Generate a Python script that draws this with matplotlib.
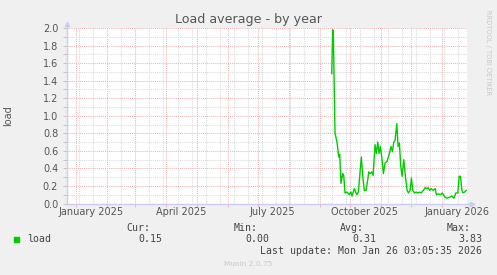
import matplotlib
matplotlib.use("Agg")
import matplotlib.pyplot as plt
import matplotlib.dates as mdates
from matplotlib.ticker import MultipleLocator, FixedLocator
import pandas as pd

# --- データ（2025-01-01 からの日数, load） ---
day = [255.0, 256.0, 256.6, 258.3, 260.3, 262.0, 263.0, 264.3, 266.0, 267.0,
       268.3, 270.3, 272.6, 274.3, 275.3, 277.6, 280.0, 281.6, 284.6, 286.0,
       287.6, 289.3, 291.0, 292.0, 293.3, 295.0, 296.3, 298.3, 299.6, 301.0,
       302.3, 303.6, 305.3, 306.6, 308.3, 310.3, 312.6, 314.3, 315.6, 317.0,
       318.3, 320.0, 321.3, 322.6, 324.0, 325.3, 327.0, 328.6, 330.3, 331.6,
       333.3, 334.6, 336.0, 337.6, 339.3, 341.0, 342.6, 344.3, 346.6, 348.3,
       350.0, 351.3, 353.0, 354.3, 356.3, 358.3, 359.6, 361.6, 363.6, 365.6,
       367.6, 370.0, 372.6, 375.0, 377.0, 379.0, 381.0, 382.3, 383.6, 385.0,
       386.3, 387.6, 389.6]
load = [1.48, 1.98, 1.96, 0.80, 0.70, 0.53, 0.56, 0.23, 0.34, 0.32,
        0.12, 0.13, 0.10, 0.13, 0.085, 0.17, 0.10, 0.13, 0.53, 0.31,
        0.15, 0.15, 0.27, 0.36, 0.34, 0.36, 0.32, 0.67, 0.57, 0.70,
        0.57, 0.65, 0.50, 0.34, 0.46, 0.48, 0.57, 0.65, 0.59, 0.70,
        0.72, 0.91, 0.65, 0.69, 0.42, 0.31, 0.50, 0.31, 0.15, 0.12,
        0.15, 0.29, 0.15, 0.12, 0.13, 0.12, 0.13, 0.12, 0.15, 0.18,
        0.17, 0.18, 0.15, 0.17, 0.15, 0.17, 0.10, 0.11, 0.10, 0.12,
        0.08, 0.06, 0.07, 0.085, 0.06, 0.12, 0.12, 0.31, 0.31, 0.15,
        0.12, 0.13, 0.15]

x_labels = ["January 2025", "April 2025", "July 2025", "October 2025", "January 2026"]
x_label_dates = ["2025-01-16", "2025-04-16", "2025-07-16", "2025-10-16", "2026-01-16"]
y_ticks = [0.0, 0.2, 0.4, 0.6, 0.8, 1.0, 1.2, 1.4, 1.6, 1.8, 2.0]

cur, vmin, avg, vmax = "0.15", "0.00", "0.31", "3.83"
last_update = "Mon Jan 26 03:05:35 2026"

# --- 色 ---
BACK = "#f0f0f0"
GREEN = "#00cc00"
MGRID = "#f0b4b4"
GRID = "#dadada"
AXIS = "#ccccf4"
FONT = "#555555"

W, H = 497, 275
fig = plt.figure(figsize=(W / 100, H / 100), dpi=100, facecolor=BACK)
ax = fig.add_axes([66.5 / W, (H - 203.5) / H, 400.5 / W, 175.5 / H])
ax.set_facecolor("white")

end = pd.Timestamp("2026-01-26 03:05:35")
start = end - pd.Timedelta(days=400)
dates = pd.Timestamp("2025-01-01") + pd.to_timedelta(day, unit="D")

ax.plot(dates, load, color=GREEN, lw=1.0, zorder=3)
ax.set_xlim(start, end)
ax.set_ylim(0, 2.0)

# グリッド
ax.yaxis.set_major_locator(FixedLocator(y_ticks))
ax.yaxis.set_minor_locator(MultipleLocator(0.1))
ax.yaxis.set_major_formatter(matplotlib.ticker.FormatStrFormatter("%.1f"))
ax.xaxis.set_major_locator(mdates.MonthLocator())
biweek = pd.date_range("2024-12-21", "2026-02-01", freq="14D")
ax.xaxis.set_minor_locator(FixedLocator(mdates.date2num(biweek)))
ax.xaxis.set_major_formatter(matplotlib.ticker.NullFormatter())

ax.grid(which="minor", color=GRID, lw=0.75, ls=(0, (1, 1)), zorder=1)
ax.grid(which="major", color=MGRID, lw=0.75, ls=(0, (1, 1)), zorder=2)

ax.tick_params(axis="y", which="both", length=3, width=0.7, color="#c4c4c4",
               labelsize=7, labelcolor=FONT, pad=3)
ax.tick_params(axis="x", which="major", length=2, width=0.7, color=MGRID)
ax.tick_params(axis="x", which="minor", length=0)

for s in ["top", "right"]:
    ax.spines[s].set_visible(False)
for s in ["left", "bottom"]:
    ax.spines[s].set_color(AXIS)
    ax.spines[s].set_linewidth(1.0)
    ax.spines[s].set_zorder(4)

# 軸の矢印
ax.plot([1.0, 1.01], [0, 0], color=AXIS, lw=1.0, transform=ax.transAxes, clip_on=False)
ax.plot([1.012], [0], marker=">", ms=3.2, color=AXIS, transform=ax.transAxes, clip_on=False)
ax.plot([0, 0], [1.0, 1.018], color=AXIS, lw=1.0, transform=ax.transAxes, clip_on=False)
ax.plot([0], [1.025], marker="^", ms=3.2, color=AXIS, transform=ax.transAxes, clip_on=False)

for lab, d in zip(x_labels, x_label_dates):
    ax.text(pd.Timestamp(d), -0.051, lab, transform=ax.get_xaxis_transform(),
            ha="center", va="center", fontsize=7, color=FONT)

# タイトル等
fig.text(248.5 / W, 1 - 19.5 / H, "Load average - by year", ha="center", va="center",
         fontsize=9.1, color=FONT)
fig.text(8 / W, 1 - 116 / H, "load", rotation=90, ha="center", va="center",
         fontsize=7, color=FONT)
fig.text(488 / W, 1 - 53 / H, "RRDTOOL / TOBI OETIKER", rotation=270, ha="center",
         va="center", fontsize=4.8, color="#c8c8c8")

# 凡例
mono = dict(family="DejaVu Sans Mono", fontsize=7.1, color="#444444", va="center")
fig.patches.append(plt.Rectangle((14 / W, 1 - 242 / H), 5 / W, 5 / H,
                                 transform=fig.transFigure, color=GREEN))
fig.text(27 / W, 1 - 239.5 / H, "load", ha="left", **mono)
for hdr, val, xr in [("Cur:", cur, 162), ("Min:", vmin, 269.5),
                     ("Avg:", avg, 376), ("Max:", vmax, 482.5)]:
    fig.text((xr - 12) / W, 1 - 228 / H, hdr, ha="right", **mono)
    fig.text(xr / W, 1 - 239.5 / H, val, ha="right", **mono)
fig.text(482.5 / W, 1 - 251.5 / H, "Last update: " + last_update, ha="right", **mono)
fig.text(248 / W, 1 - 264 / H, "Munin 2.0.75", ha="center", va="center",
         fontsize=5.3, color="#c8c8c8")

fig.savefig("out.png", dpi=100, facecolor=BACK)
